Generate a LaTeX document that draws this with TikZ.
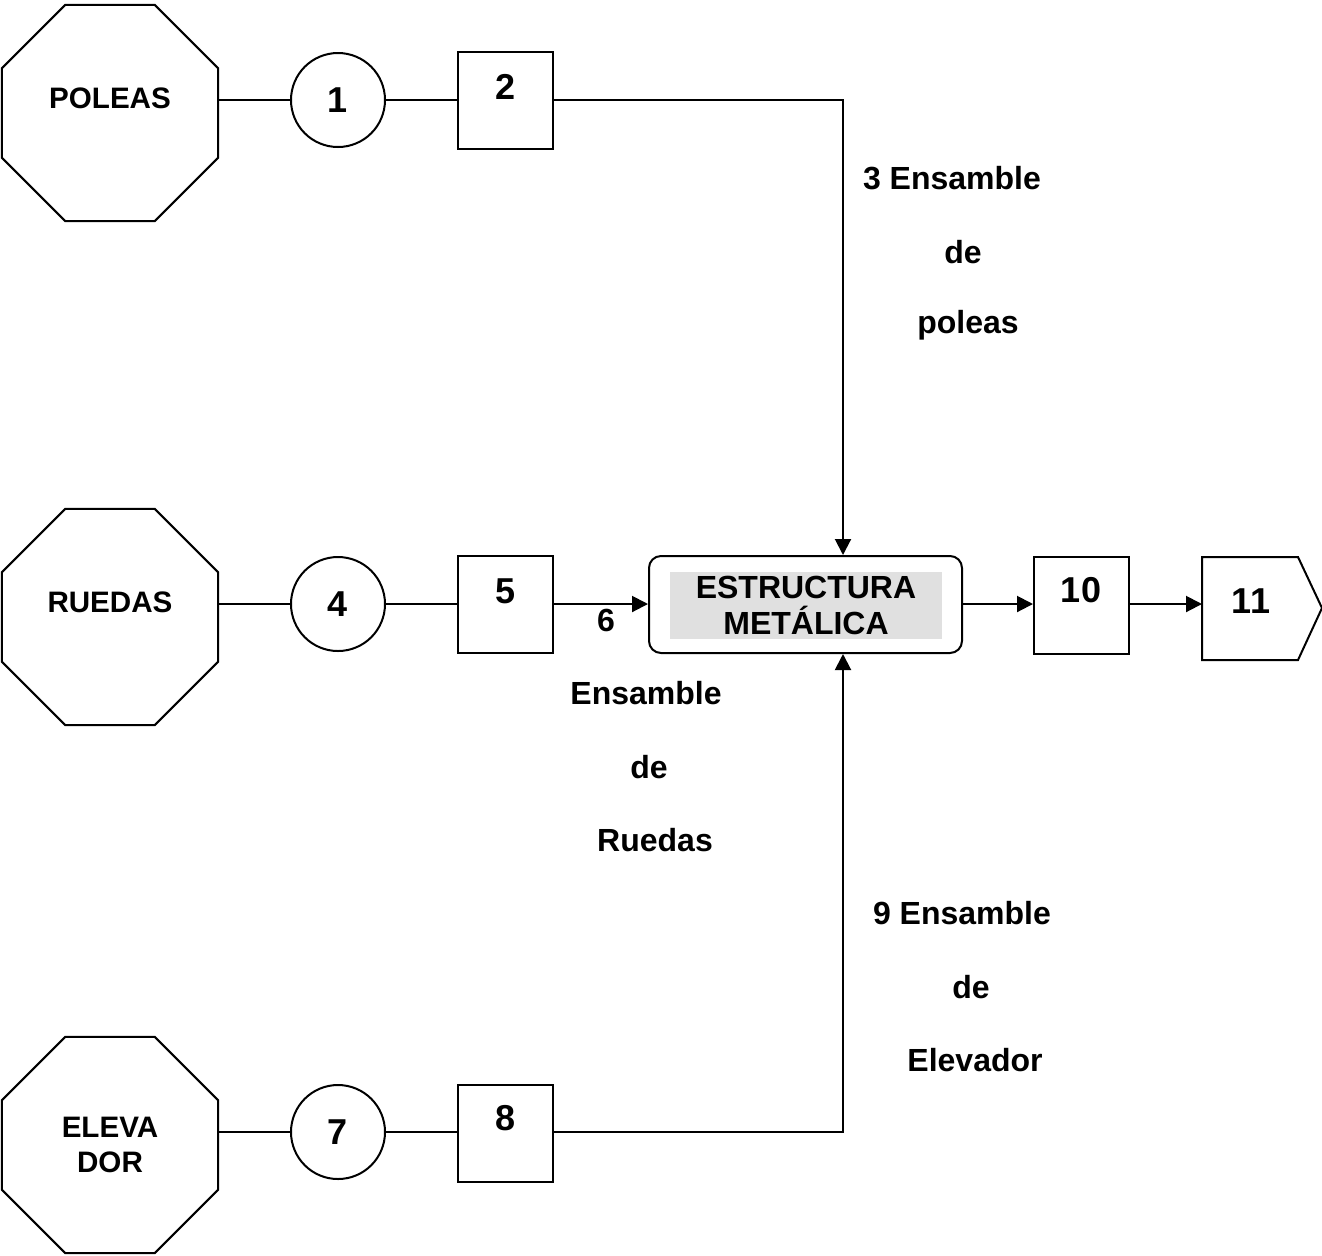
\documentclass[tikz,border=0pt]{standalone}
\usepackage{fontspec}
\setmainfont{Liberation Sans}
\usetikzlibrary{shapes.geometric,arrows.meta}
\begin{document}
\begin{tikzpicture}[x=0.5pt,y=-0.5pt,
  line width=1pt,
  oct/.style={draw,regular polygon,regular polygon sides=8,minimum size=117pt,inner sep=0pt},
  circ/.style={draw,circle,minimum size=47pt,inner sep=0pt},
  sq/.style={draw,rectangle,minimum width=47.5pt,minimum height=48.5pt,inner sep=0pt},
  olbl/.style={font=\fontsize{14.8}{17.5}\selectfont\bfseries,inner sep=0pt},
  lbl/.style={font=\fontsize{16}{18}\selectfont\bfseries,inner sep=0pt},
  num/.style={font=\fontsize{18}{20}\selectfont\bfseries,inner sep=0pt},
  arr/.style={-{Triangle[length=8pt,width=8pt]}}]
\useasboundingbox (0,0) rectangle (1322,1255);
% octagons
\node[oct] (o1) at (110,113) {};
\node[olbl] (t1) at (110,98) {POLEAS};
\node[oct] (o2) at (110,617) {};
\node[olbl] (t2) at (110,602) {RUEDAS};
\node[oct] (o3) at (110,1145) {};
\node[olbl,align=center] (t3) at (110,1145) {ELEVA\\DOR};
% circles
\node[circ,num] (c1) at (338,100) {1};
\node[circ,num] (c4) at (338,604) {4};
\node[circ,num] (c7) at (338,1132) {7};
% squares
\node[sq] (b2) at (505.5,100.5) {};
\node[num] (n2) at (506,87) {2};
\node[sq] (b5) at (505.5,604.5) {};
\node[num] (n5) at (506,591) {5};
\node[sq] (b8) at (505.5,1133) {};
\node[num] (n8) at (506,1118) {8};
\node[sq] (b10) at (1081.5,605) {};
\node[num] (n10) at (1081,590) {10};
% structure
\node[draw,rounded corners=6pt,minimum width=156.5pt,minimum height=48.5pt,inner sep=0pt] (st) at (805.5,604.5) {};
\node[fill=black!12,minimum width=136pt,minimum height=33.5pt,inner sep=0pt,align=center,
  font=\fontsize{16}{18}\selectfont\bfseries] (stt) at (806,605.5) {ESTRUCTURA\\METÁLICA};
% pentagon 11
\draw (1202,557) coordinate (p1) -- (1298,557) coordinate (p2) -- (1322,608) coordinate (p3)
  -- (1298,660) coordinate (p4) -- (1202,660) coordinate (p5) -- cycle;
\coordinate (p11w) at (1202,604);
\node[num] (n11) at (1251,601) {11};
% connectors
\draw (o1.east |- c1.west) -- (c1.west);
\draw (c1.east) -- (b2.west |- c1.east);
\coordinate (j1) at (843,100);
\draw[arr] (b2.east |- j1) -- (j1) -- (j1 |- st.north);
\draw (o2.east |- c4.west) -- (c4.west);
\draw (c4.east) -- (b5.west |- c4.east);
\draw[arr] (b5.east |- c4.east) -- (st.west |- c4.east);
\draw (o3.east |- c7.west) -- (c7.west);
\draw (c7.east) -- (b8.west |- c7.east);
\coordinate (j3) at (843,1132);
\draw[arr] (b8.east |- j3) -- (j3) -- (j3 |- st.south);
\draw[arr] (st.east |- c4.east) -- (b10.west |- c4.east);
\draw[arr] (b10.east |- c4.east) -- (p11w);
% labels
\node[lbl] (l6) at (606,620) {6};
\node[lbl] (l3a) at (952,178) {3 Ensamble};
\node[lbl] (l3b) at (963,252) {de};
\node[lbl] (l3c) at (968,325) {poleas};
\node[lbl] (l6a) at (646,693) {Ensamble};
\node[lbl] (l6b) at (649,767) {de};
\node[lbl] (l6c) at (655,840) {Ruedas};
\node[lbl] (l9a) at (962,913) {9 Ensamble};
\node[lbl] (l9b) at (971,987) {de};
\node[lbl] (l9c) at (975,1060) {Elevador};
\end{tikzpicture}
\end{document}
